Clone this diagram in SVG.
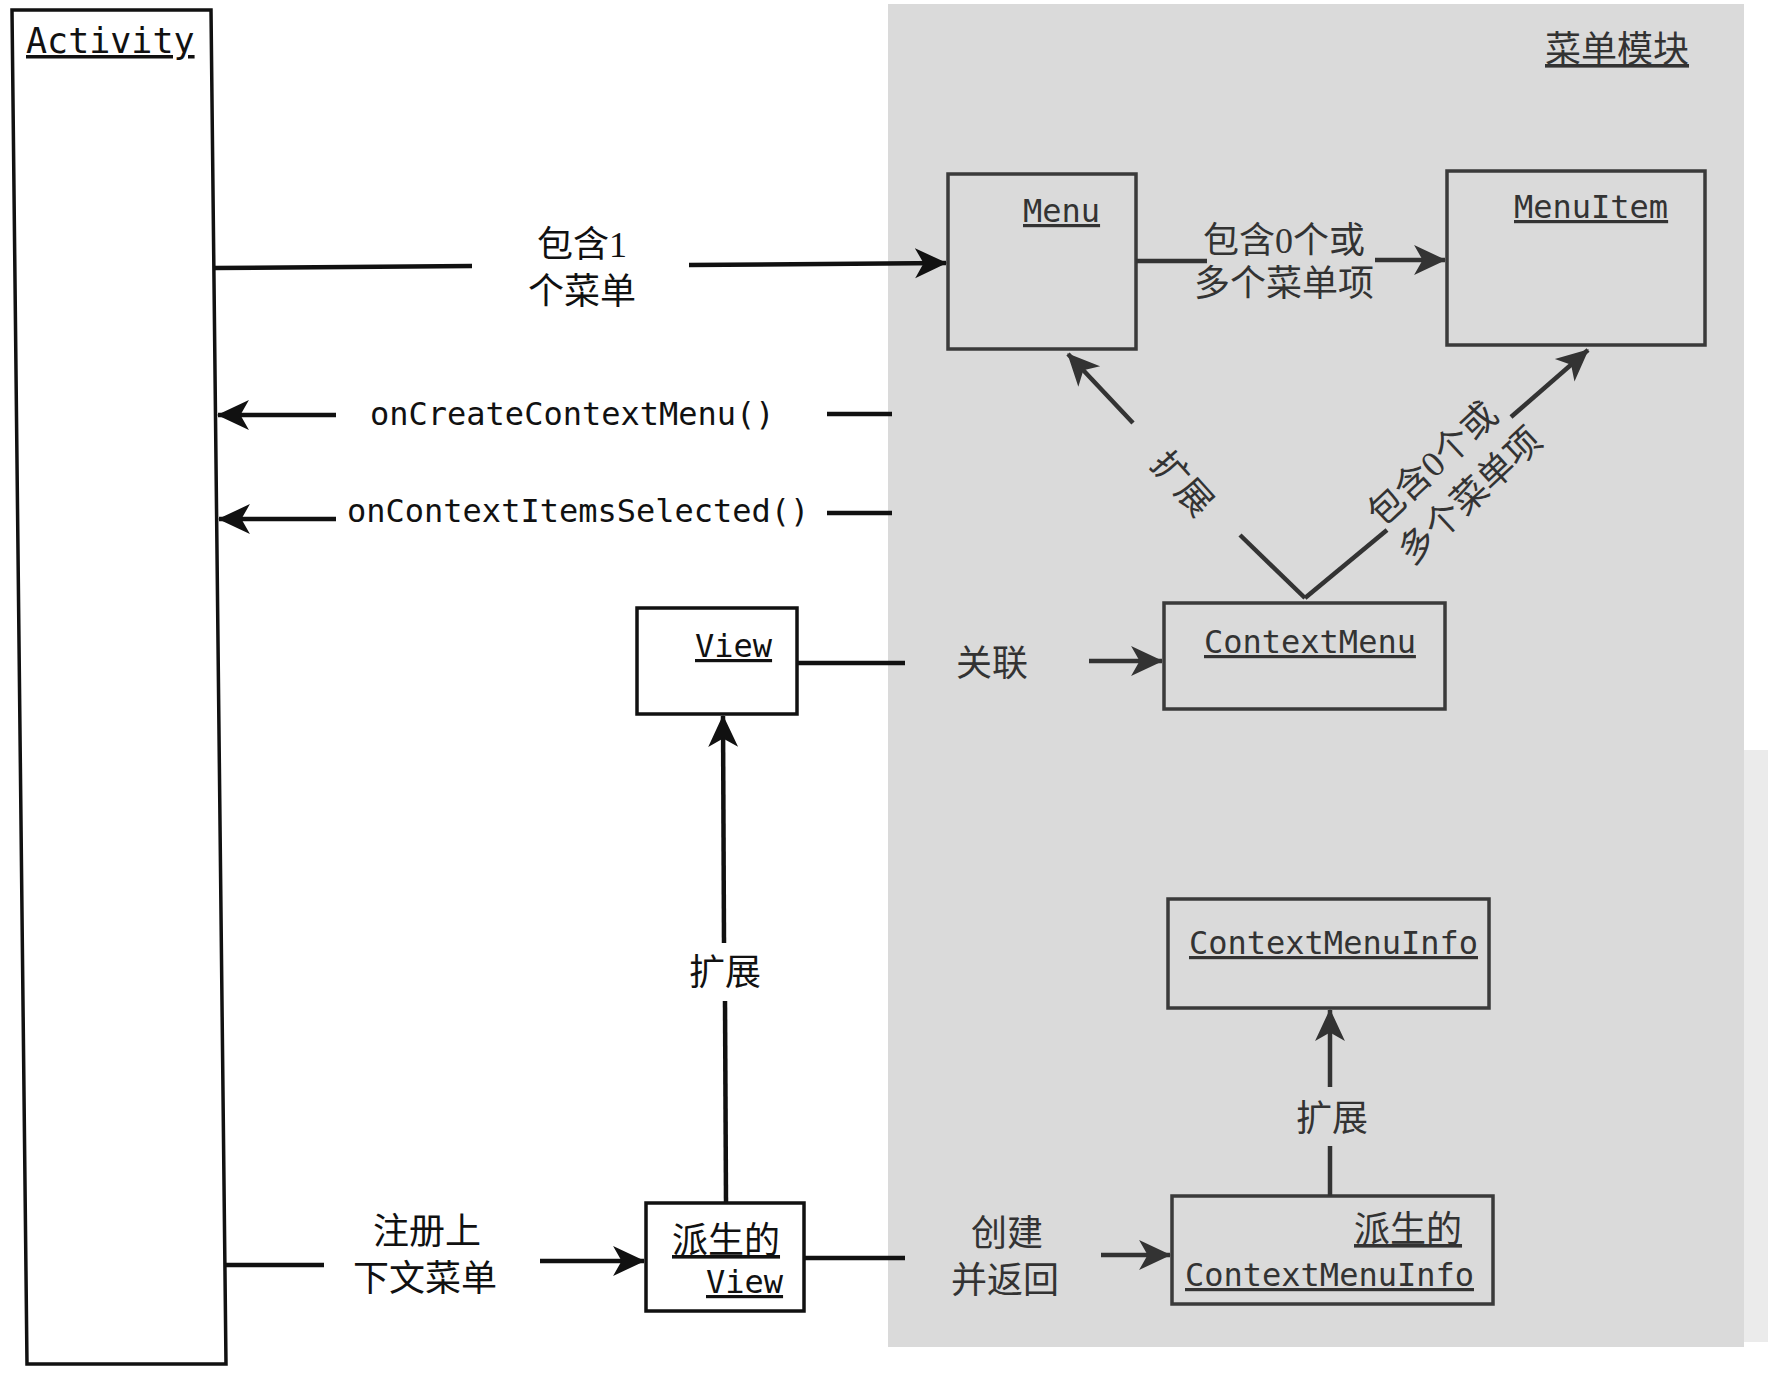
<svg xmlns="http://www.w3.org/2000/svg" width="1768" height="1374" viewBox="0 0 1768 1374">
<defs>
<marker id="arr" viewBox="0 0 30 30" refX="29" refY="15" markerWidth="32" markerHeight="32" markerUnits="userSpaceOnUse" orient="auto">
<path d="M0,1 L30,15 L0,29 L8,15 Z" fill="#111"/>
</marker>
<marker id="arrg" viewBox="0 0 30 30" refX="29" refY="15" markerWidth="32" markerHeight="32" markerUnits="userSpaceOnUse" orient="auto">
<path d="M0,1 L30,15 L0,29 L8,15 Z" fill="#333"/>
</marker>
</defs>
<style>
.box{fill:none;stroke:#111;stroke-width:3.5}
.gbox{fill:none;stroke:#3a3a3a;stroke-width:3.5}
.mono{font-family:"DejaVu Sans Mono","Liberation Mono",monospace;font-size:32px;fill:#111}
.gmono{font-family:"DejaVu Sans Mono","Liberation Mono",monospace;font-size:32px;fill:#333}
.u{text-decoration:underline}
.cjk{font-family:"Liberation Serif","Noto Sans CJK SC",serif;font-size:36px;fill:#111}
.gcjk{font-family:"Liberation Serif","Noto Sans CJK SC",serif;font-size:36px;fill:#333}
.ln{stroke:#111;stroke-width:4.5;fill:none}
.gln{stroke:#333;stroke-width:4.5;fill:none}
</style>
<rect width="1768" height="1374" fill="#fff"/>
<g id="menu-module">
<rect x="888" y="4" width="856" height="1343" fill="#dadada"/>
<rect x="1744" y="750" width="24" height="592" fill="#ebebeb"/>
<text class="gcjk u" x="1545" y="62">菜单模块</text>
</g>
<g id="activity">
<polygon points="12,10 211,10 226,1364 27,1364" fill="#fff" stroke="#111" stroke-width="3.5"/>
<text class="mono u" x="26" y="53" style="font-size:35px">Activity</text>
</g>
<g id="menu">
<rect class="gbox" x="948" y="174" width="188" height="175"/>
<text class="gmono u" x="1023" y="222">Menu</text>
</g>
<g id="menuitem">
<rect class="gbox" x="1447" y="171" width="258" height="174"/>
<text class="gmono u" x="1514" y="218">MenuItem</text>
</g>
<g id="contextmenu">
<rect class="gbox" x="1164" y="603" width="281" height="106"/>
<text class="gmono u" x="1204" y="653">ContextMenu</text>
</g>
<g id="view">
<rect x="637" y="608" width="160" height="106" fill="#fff" stroke="#111" stroke-width="3.5"/>
<text class="mono u" x="695" y="657">View</text>
</g>
<g id="derived-view">
<rect x="646" y="1203" width="158" height="108" fill="#fff" stroke="#111" stroke-width="3.5"/>
<text class="cjk u" x="672" y="1253">派生的</text>
<text class="mono u" x="706" y="1293">View</text>
</g>
<g id="contextmenuinfo">
<rect class="gbox" x="1168" y="899" width="321" height="109"/>
<text class="gmono u" x="1189" y="954">ContextMenuInfo</text>
</g>
<g id="derived-contextmenuinfo">
<rect class="gbox" x="1172" y="1196" width="321" height="108"/>
<text class="gcjk u" x="1354" y="1242">派生的</text>
<text class="gmono u" x="1185" y="1286">ContextMenuInfo</text>
</g>
<g id="connectors">
<!-- Activity -> Menu -->
<line class="ln" x1="214" y1="268" x2="472" y2="266"/>
<line class="ln" x1="689" y1="265" x2="946" y2="263" marker-end="url(#arr)"/>
<text class="cjk" x="537" y="257">包含1</text>
<text class="cjk" x="528" y="304">个菜单</text>
<!-- onCreateContextMenu -->
<line class="ln" x1="336" y1="415" x2="218" y2="415" marker-end="url(#arr)"/>
<line class="ln" x1="827" y1="414" x2="892" y2="414"/>
<text class="mono" x="370" y="425">onCreateContextMenu()</text>
<!-- onContextItemsSelected -->
<line class="ln" x1="336" y1="519" x2="219" y2="519" marker-end="url(#arr)"/>
<line class="ln" x1="827" y1="513" x2="892" y2="513"/>
<text class="mono" x="347" y="522">onContextItemsSelected()</text>
<!-- Menu -> MenuItem -->
<line class="gln" x1="1136" y1="261" x2="1207" y2="261"/>
<line class="gln" x1="1375" y1="260" x2="1445" y2="260" marker-end="url(#arrg)"/>
<text class="gcjk" x="1203" y="253">包含0个或</text>
<text class="gcjk" x="1194" y="296">多个菜单项</text>
<!-- ContextMenu -> Menu (extends) -->
<line class="gln" x1="1305" y1="598" x2="1240" y2="535"/>
<line class="gln" x1="1133" y1="423" x2="1068" y2="354" marker-end="url(#arrg)"/>
<text class="gcjk" transform="translate(1182,484) rotate(48)" text-anchor="middle" dy="12">扩展</text>
<!-- ContextMenu -> MenuItem -->
<line class="gln" x1="1305" y1="598" x2="1387" y2="530"/>
<line class="gln" x1="1511" y1="417" x2="1588" y2="350" marker-end="url(#arrg)"/>
<text class="gcjk" transform="translate(1433,464) rotate(-43)" text-anchor="middle" dy="12">包含0个或</text>
<text class="gcjk" transform="translate(1470,496) rotate(-43)" text-anchor="middle" dy="12">多个菜单项</text>
<!-- View -> ContextMenu -->
<line class="ln" x1="797" y1="663" x2="905" y2="663"/>
<line class="gln" x1="1089" y1="661" x2="1162" y2="661" marker-end="url(#arrg)"/>
<text class="gcjk" x="956" y="676">关联</text>
<!-- Derived View -> View -->
<line class="ln" x1="726" y1="1203" x2="725" y2="1001"/>
<line class="ln" x1="724" y1="943" x2="723" y2="716" marker-end="url(#arr)"/>
<text class="cjk" x="689" y="985">扩展</text>
<!-- Activity -> Derived View -->
<line class="ln" x1="225" y1="1265" x2="324" y2="1265"/>
<line class="ln" x1="540" y1="1261" x2="644" y2="1261" marker-end="url(#arr)"/>
<text class="cjk" x="373" y="1244">注册上</text>
<text class="cjk" x="353" y="1291">下文菜单</text>
<!-- Derived View -> Derived ContextMenuInfo -->
<line class="ln" x1="804" y1="1258" x2="905" y2="1258"/>
<line class="gln" x1="1101" y1="1255" x2="1170" y2="1255" marker-end="url(#arrg)"/>
<text class="gcjk" x="971" y="1246">创建</text>
<text class="gcjk" x="951" y="1293">并返回</text>
<!-- Derived ContextMenuInfo -> ContextMenuInfo -->
<line class="gln" x1="1330" y1="1196" x2="1330" y2="1146"/>
<line class="gln" x1="1330" y1="1087" x2="1330" y2="1010" marker-end="url(#arrg)"/>
<text class="gcjk" x="1296" y="1131">扩展</text>
</g>
</svg>
